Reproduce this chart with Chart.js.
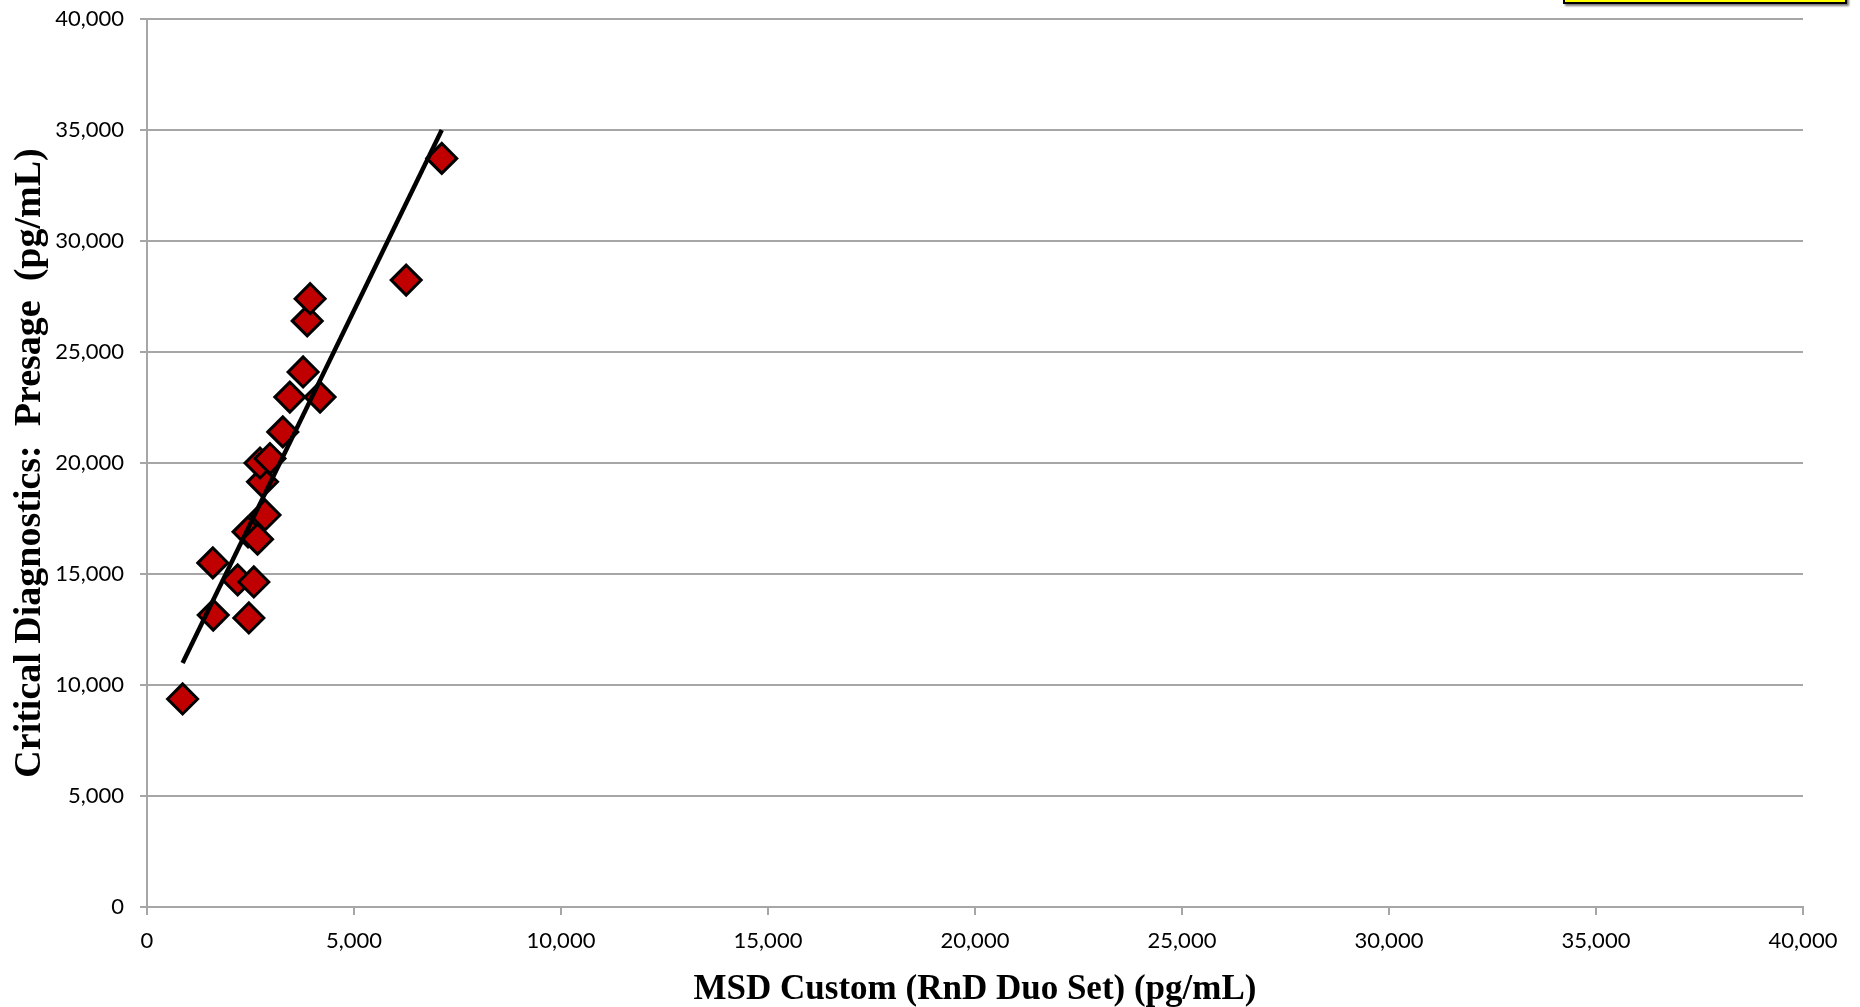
<!DOCTYPE html>
<html>
<head>
<meta charset="utf-8">
<script src="https://cdn.jsdelivr.net/npm/chart.js@4.4.0/dist/chart.umd.min.js"></script>
<style>
    html, body { margin: 0; padding: 0; background: #fff; overflow: hidden; }
    #wrap { position: relative; width: 1860px; height: 1007px; }
    #legend-box {
        position: absolute; left: 1563px; top: -22px; width: 280px; height: 22px;
        background: #ffff00; border: 2px solid #000; box-shadow: 2px 2px 2px #777;
    }
</style>
</head>
<body>
<div id="wrap">
    <canvas id="chart" width="1860" height="1007"></canvas>
    <div id="legend-box"></div>
</div>
<script>
// MSD Custom (x) vs Critical Diagnostics Presage (y), pg/mL
const msdValues = [860, 1590, 1600, 2190, 2580, 2460, 2440, 2670, 2850, 2790,
                   2730, 2970, 3280, 3450, 3770, 4180, 3870, 3940, 6260, 7120];
const presageValues = [9370, 15500, 13150, 14730, 14640, 13020, 16900, 16570, 17660, 19150,
                       20000, 20200, 21400, 22970, 24100, 22970, 26400, 27400, 28240, 33720];

// linear trendline end points
const trendX = [860, 7120];
const trendY = [10990, 35000];

const axisMin = 0;
const axisMax = 40000;
const axisStep = 5000;

const points = msdValues.map((x, i) => ({ x: x, y: presageValues[i] }));
const trendPoints = trendX.map((x, i) => ({ x: x, y: trendY[i] }));

const gridGray = '#a6a6a6';
const tickFont = { family: 'Lato, "Open Sans", sans-serif', size: 22 };

new Chart(document.getElementById('chart').getContext('2d'), {
    type: 'scatter',
    data: {
        datasets: [
            {
                label: 'Trend',
                data: trendPoints,
                showLine: true,
                borderColor: '#000',
                borderWidth: 4.5,
                pointRadius: 0,
                fill: false,
                order: 0
            },
            {
                label: 'Samples',
                data: points,
                pointStyle: 'rectRot',
                pointRadius: 15,
                pointHoverRadius: 15,
                backgroundColor: '#c00000',
                borderColor: '#000',
                borderWidth: 3,
                order: 1
            }
        ]
    },
    options: {
        responsive: false,
        animation: false,
        devicePixelRatio: 1,
        layout: { padding: { top: 19, right: 57, left: 0, bottom: 0 } },
        plugins: { legend: { display: false }, tooltip: { enabled: false } },
        scales: {
            x: {
                type: 'linear',
                min: axisMin,
                max: axisMax,
                ticks: { stepSize: axisStep, color: '#000', font: tickFont, padding: 13, maxRotation: 0 },
                grid: { drawOnChartArea: false, drawTicks: true, tickLength: 8, color: gridGray, lineWidth: 2 },
                border: { display: true, color: gridGray, width: 2 },
                title: {
                    display: true,
                    text: 'MSD Custom (RnD Duo Set) (pg/mL)',
                    color: '#000',
                    font: { family: '"Liberation Serif", "Times New Roman", serif', size: 35, weight: 'bold', lineHeight: 1.0 },
                    padding: { top: 0, bottom: 0 }
                },
                afterFit: (scale) => {
                    scale.height = 100;
                    scale.paddingLeft = 0;
                    scale.paddingRight = 0;
                }
            },
            y: {
                type: 'linear',
                min: axisMin,
                max: axisMax,
                ticks: { stepSize: axisStep, color: '#000', font: tickFont, padding: 16 },
                grid: { color: gridGray, lineWidth: 2, tickLength: 7 },
                border: { display: true, color: gridGray, width: 2 },
                title: {
                    display: true,
                    text: 'Critical Diagnostics:  Presage  (pg/mL)',
                    color: '#000',
                    font: { family: '"Liberation Serif", "Times New Roman", serif', size: 38, weight: 'bold', lineHeight: 1.2 },
                    padding: { top: 7, bottom: 0 }
                },
                afterFit: (scale) => {
                    scale.width = 147;
                    scale.paddingTop = 0;
                    scale.paddingBottom = 0;
                }
            }
        }
    }
});
</script>
</body>
</html>
